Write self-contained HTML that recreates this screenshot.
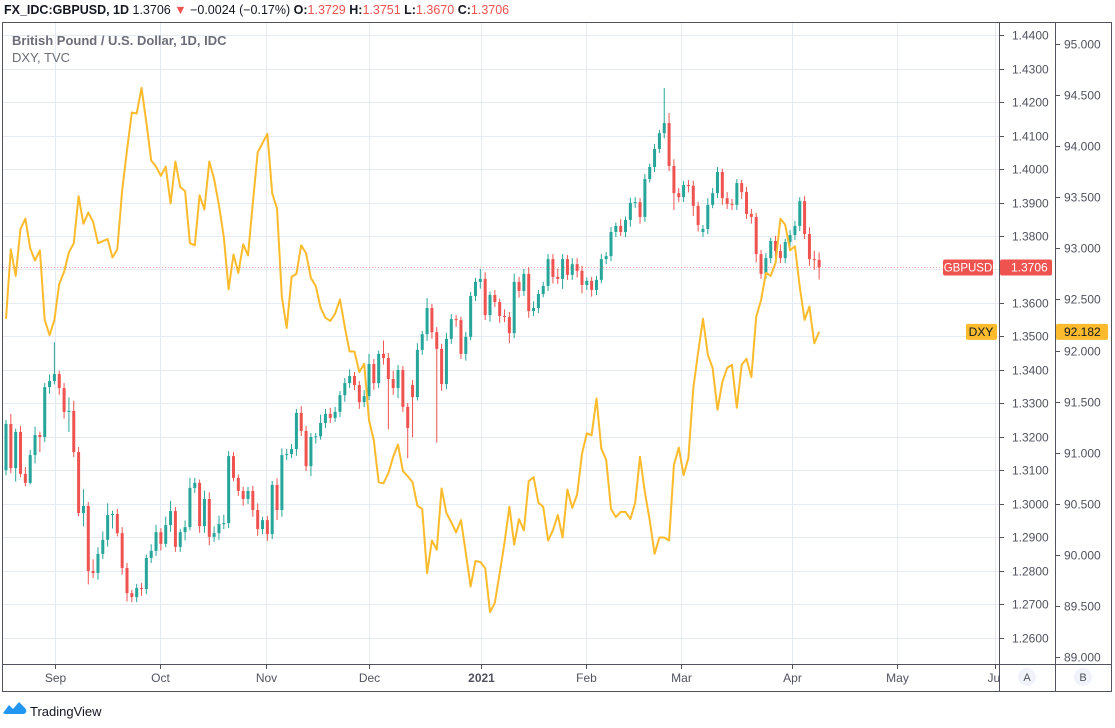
<!DOCTYPE html>
<html><head><meta charset="utf-8">
<style>
html,body{margin:0;padding:0;background:#fff;}
body{width:1115px;height:723px;overflow:hidden;font-family:"Liberation Sans",sans-serif;}
svg text{font-family:"Liberation Sans",sans-serif;}
</style></head>
<body>
<svg id="chart" width="1115" height="723" xmlns="http://www.w3.org/2000/svg">
  <g id="header">
    <text x="4" y="14" font-size="12.5" fill="#131722"><tspan font-weight="bold">FX_IDC:GBPUSD, 1D</tspan> 1.3706 <tspan fill="#ef5350">▼</tspan> −0.0024 (−0.17%) <tspan font-weight="bold">O:</tspan><tspan fill="#ef5350">1.3729</tspan> <tspan font-weight="bold">H:</tspan><tspan fill="#ef5350">1.3751</tspan> <tspan font-weight="bold">L:</tspan><tspan fill="#ef5350">1.3670</tspan> <tspan font-weight="bold">C:</tspan><tspan fill="#ef5350">1.3706</tspan></text>
  </g>
  <g id="grid"></g>
  <g id="plot" clip-path="url(#clip)"></g>
  <defs><clipPath id="clip"><rect x="3" y="23" width="996" height="641"/></clipPath></defs>
  <g id="frame">
    <rect x="2.5" y="22.5" width="1109" height="669" fill="none" stroke="#50535e" stroke-width="1"/>
    <line x1="999.5" y1="22" x2="999.5" y2="692" stroke="#50535e"/>
    <line x1="1055.5" y1="22" x2="1055.5" y2="692" stroke="#50535e"/>
    <line x1="2" y1="664.5" x2="1112" y2="664.5" stroke="#50535e"/>
  </g>
  <g id="axisA"></g>
  <g id="axisB"></g>
  <g id="axisX"></g>
  <text x="12" y="45" font-size="13" font-weight="bold" fill="#6a6d78">British Pound / U.S. Dollar, 1D, IDC</text>
  <text x="12" y="62" font-size="13" fill="#6a6d78">DXY, TVC</text>
  <g><circle cx="1027" cy="677" r="9" fill="#f0f3fa"/><text x="1027" y="681" font-size="11" text-anchor="middle" fill="#50535e">A</text></g>
  <g><circle cx="1083" cy="677" r="9" fill="#f0f3fa"/><text x="1083" y="681" font-size="11" text-anchor="middle" fill="#50535e">B</text></g>
  <g>
    <path d="M3,713 L9,705 L13,709 L19,702 L25,708 Q28,712 24,714 L5,714 Z" fill="#2196f3"/>
    <text x="30" y="716" font-size="13" fill="#131722">TradingView</text>
  </g>
</svg>
<script>
const closes = [
1.3239,1.3107,1.3215,1.3090,1.3063,1.3146,1.3206,1.3200,1.3349,1.3367,
1.3388,1.3346,1.3275,1.3278,1.3155,1.2973,1.2994,1.2800,1.2794,1.2851,
1.2893,1.2967,1.2970,1.2913,1.2809,1.2734,1.2722,1.2749,1.2746,1.2839,
1.2860,1.2916,1.2881,1.2937,1.2979,1.2872,1.2916,1.2931,1.3048,1.3063,
1.2934,1.3015,1.2902,1.2913,1.2940,1.2943,1.3143,1.3078,1.3039,1.3015,
1.3039,1.2982,1.2925,1.2952,1.2910,1.3057,1.2982,1.3146,1.3149,1.3164,
1.3272,1.3218,1.3113,1.3200,1.3202,1.3242,1.3269,1.3257,1.3275,1.3325,
1.3361,1.3382,1.3355,1.3304,1.3322,1.3418,1.3361,1.3448,1.3436,1.3373,
1.3346,1.3400,1.3290,1.3227,1.3319,1.3460,1.3507,1.3585,1.3513,1.3463,
1.3358,1.3493,1.3552,1.3549,1.3448,1.3499,1.3621,1.3663,1.3672,1.3564,
1.3624,1.3603,1.3561,1.3558,1.3510,1.3663,1.3636,1.3687,1.3576,1.3585,
1.3627,1.3651,1.3731,1.3678,1.3672,1.3731,1.3684,1.3716,1.3696,1.3654,
1.3666,1.3639,1.3669,1.3731,1.3740,1.3812,1.3830,1.3812,1.3848,1.3899,
1.3901,1.3857,1.3970,1.4006,1.4060,1.4107,1.4137,1.4009,1.3928,1.3916,
1.3952,1.3950,1.3890,1.3833,1.3821,1.3893,1.3928,1.3991,1.3913,1.3896,
1.3893,1.3958,1.3931,1.3866,1.3857,1.3746,1.3687,1.3734,1.3785,1.3755,
1.3734,1.3782,1.3803,1.3830,1.3904,1.3806,1.3731,1.3729,1.3706];
const gapOpens = {0:1.3101, 84:1.3355, 144:1.3812};
const upperWickPips = [
12,30,10,18,20,15,25,10,12,20, 95,10,15,40,30,15,50,12,35,20,
25,35,10,15,18,15,10,12,15,10, 20,22,12,25,30,12,10,20,30,15,
10,25,20,20,25,25,15,12,10,12, 12,15,20,10,12,12,20,20,15,15,
12,20,15,12,10,25,15,18,15,12, 15,20,12,12,18,30,15,10,40,15,
25,15,12,12,15,20,10,30,12,15, 15,18,15,12,10,15,12,12,30,20,
10,15,10,20,15,25,15,15,20,20, 12,12,15,15,25,15,12,18,18,15,
10,12,12,15,12,15,10,20,10,15, 15,12,15,10,15,10,105,30,20,15,
12,15,15,12,12,20,15,15,10,18, 15,12,10,15,15,12,12,15,10,15,
20,10,15,15,12,15,20,25,22];
const lowerWickPips = [
15,15,40,10,10,5,25,45,15,20, 10,20,20,60,15,10,40,40,15,20,
15,20,40,10,20,25,15,15,20,15, 15,15,20,10,20,15,15,25,10,15,
20,20,25,15,20,15,15,10,15,20, 15,20,20,15,20,15,30,20,15,12,
20,15,15,30,20,10,15,15,12,15, 20,15,15,20,15,12,20,15,20,150,
20,30,15,90,120,10,15,20,20,280, 20,15,15,20,15,20,10,15,20,15,
20,15,20,15,30,15,20,15,20,15, 15,10,15,20,15,30,15,15,20,25,
15,20,15,10,15,15,15,12,15,20, 15,20,15,10,15,12,15,15,50,15,
15,20,30,20,15,15,10,15,20,15, 15,15,20,15,20,25,15,15,15,20,
15,15,15,15,15,15,20,30,36];
const dxy = [
92.31,92.99,92.73,93.19,93.29,93.00,92.88,92.98,92.30,92.15,
92.30,92.65,92.77,92.96,93.05,93.51,93.24,93.35,93.26,93.05,
93.07,93.09,92.91,92.99,93.57,93.96,94.33,94.32,94.57,94.23,
93.86,93.80,93.71,93.80,93.44,93.85,93.60,93.56,93.05,93.03,
93.52,93.38,93.85,93.68,93.42,93.11,92.60,92.94,92.76,93.04,
92.93,93.44,93.94,94.03,94.12,93.54,93.39,92.52,92.22,92.72,
92.75,93.03,92.95,92.71,92.63,92.42,92.32,92.29,92.36,92.50,
92.23,91.99,91.99,91.79,91.87,91.32,91.12,90.71,90.70,90.80,
90.96,91.08,90.82,90.77,90.71,90.48,90.45,89.82,90.14,90.05,
90.65,90.41,90.32,90.22,90.34,90.02,89.69,89.94,89.93,89.87,
89.44,89.53,89.82,90.12,90.47,90.10,90.35,90.24,90.72,90.76,
90.51,90.47,90.14,90.24,90.39,90.17,90.64,90.46,90.59,90.99,
91.19,91.17,91.53,91.04,90.93,90.45,90.37,90.42,90.42,90.35,
90.51,90.96,90.61,90.34,90.01,90.17,90.17,90.14,90.88,91.05,
90.78,90.95,91.63,91.98,92.31,91.96,91.83,91.42,91.69,91.83,
91.86,91.44,91.86,91.92,91.74,92.33,92.49,92.76,92.73,92.86,
93.29,93.23,92.98,93.02,92.62,92.30,92.43,92.07,92.182];
const priceTicks = [1.44,1.43,1.42,1.41,1.40,1.39,1.38,1.37,1.36,1.35,1.34,1.33,1.32,1.31,1.30,1.29,1.28,1.27,1.26];
const dxyTicks = [95,94.5,94,93.5,93,92.5,92,91.5,91,90.5,90,89.5,89];
const monthLabels = ["Sep","Oct","Nov","Dec","2021","Feb","Mar","Apr","May","Ju"];
const monthIndex = [10.1,31.8,53.7,75,98.1,119.8,139.5,162.4,184,204.3];

const NS="http://www.w3.org/2000/svg";
const xOf = i => 6 + i*4.84;
const yA = p => 35 + (1.44 - p)*3350;
const yB = v => 44 + (95 - v)*102.17;
function mk(tag, attrs, parent){const e=document.createElementNS(NS,tag);for(const k in attrs)e.setAttribute(k,attrs[k]);parent.appendChild(e);return e;}
const grid=document.getElementById('grid'), plot=document.getElementById('plot');
const axA=document.getElementById('axisA'), axB=document.getElementById('axisB'), axX=document.getElementById('axisX');

priceTicks.forEach(p=>{
  const y=Math.round(yA(p))+0.5;
  const l=mk('line',{x1:3,x2:999,y1:y,y2:y,stroke:'#e5ebf0'},grid);
  
  
  mk('line',{x1:1000,x2:1004,y1:y,y2:y,stroke:'#50535e'},axA);
  const t=mk('text',{x:1012,y:y+4,'font-size':12,fill:'#50535e'},axA);
  t.textContent=p.toFixed(4);
  
  
});
dxyTicks.forEach(v=>{
  const y=Math.round(yB(v))+0.5;
  mk('line',{x1:1056,x2:1060,y1:y,y2:y,stroke:'#50535e'},axB);
  const t=mk('text',{x:1064,y:y+4,'font-size':12,fill:'#50535e'},axB);
  t.textContent=v.toFixed(3);
  
  
});
monthLabels.forEach((m,k)=>{
  const x=Math.round(xOf(monthIndex[k]))+0.5;
  const l=mk('line',{x1:x,x2:x,y1:23,y2:664,stroke:'#e5ebf0'},grid);
  
  
  mk('line',{x1:x,x2:x,y1:665,y2:669,stroke:'#50535e'},axX);
  const t=mk('text',{x:x,y:682,'font-size':12,fill:'#50535e','text-anchor':m==='Ju'?'start':'middle','font-weight':m==='2021'?'bold':'normal'},axX);
  if(m==='Ju') t.setAttribute('x', x-8);
  t.textContent=m;
  
  
});

closes.forEach((c,i)=>{
  const o = (i in gapOpens) ? gapOpens[i] : closes[i-1];
  const hi = Math.max(o,c) + upperWickPips[i]/10000;
  const lo = Math.min(o,c) - lowerWickPips[i]/10000;
  const up = c >= o;
  const col = up ? '#26a69a' : '#ef5350';
  const x = xOf(i);
  const g = mk('g',{},plot);
  
  
  mk('line',{x1:x,x2:x,y1:yA(hi),y2:yA(lo),stroke:col,'stroke-width':1},g);
  const top=yA(Math.max(o,c)), bot=yA(Math.min(o,c));
  mk('rect',{x:x-1.5,y:top,width:3,height:Math.max(1,bot-top),fill:col},g);
});

const pts = dxy.map((v,i)=>xOf(i).toFixed(1)+','+yB(v).toFixed(1)).join(' ');
const pl = mk('polyline',{points:pts,fill:'none',stroke:'#fbbb2c','stroke-width':2,'stroke-linejoin':'round'},plot);



const svg=document.getElementById('chart');
const lastC = closes[closes.length-1], lastD = dxy[dxy.length-1];
const ya = yA(lastC), yb = yB(lastD);
const gl = mk('g',{},svg);


mk('line',{x1:3,x2:940,y1:ya,y2:ya,stroke:'#ef5350','stroke-dasharray':'1 2','stroke-opacity':0.5},gl);
mk('rect',{x:943,y:ya-8,width:50,height:16,rx:2,fill:'#ef5350'},gl);
mk('text',{x:968,y:ya+4,'font-size':11.5,fill:'#fff','text-anchor':'middle'},gl).textContent='GBPUSD';
mk('rect',{x:1000,y:ya-8,width:52,height:16,rx:2,fill:'#ef5350'},gl);
mk('text',{x:1011,y:ya+4,'font-size':12,fill:'#fff'},gl).textContent=lastC.toFixed(4);
const gd = mk('g',{},svg);


mk('rect',{x:966,y:yb-8,width:31,height:16,rx:2,fill:'#fbbb2c'},gd);
mk('text',{x:981,y:yb+4,'font-size':12,fill:'#131722','text-anchor':'middle'},gd).textContent='DXY';
mk('rect',{x:1056,y:yb-8,width:52,height:16,rx:2,fill:'#fbbb2c'},gd);
mk('text',{x:1064,y:yb+4,'font-size':12,fill:'#131722'},gd).textContent=lastD.toFixed(3);
</script>
</body></html>
